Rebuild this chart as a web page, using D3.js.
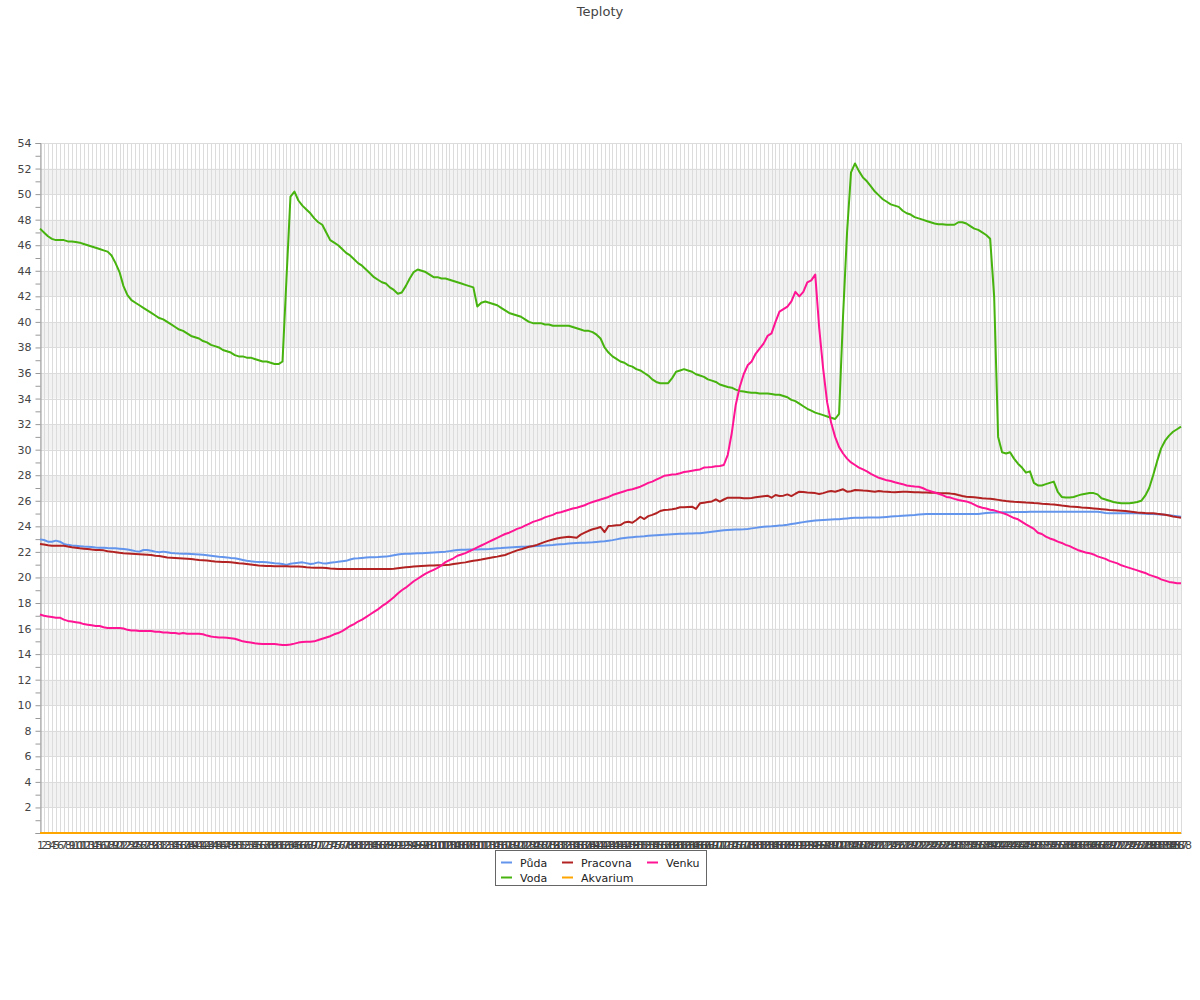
<!DOCTYPE html>
<html>
<head>
<meta charset="utf-8">
<script src="https://cdn.jsdelivr.net/npm/d3@7"></script>
<style>
  html, body { margin: 0; padding: 0; background: #fff; }
  svg { display: block; font-family: "DejaVu Sans", sans-serif; }
</style>
</head>
<body>
<svg id="chart" width="1200" height="1000"></svg>
<script>
const title = "Teploty";
const categories = d3.range(1, 289).map(String);
const seriesNames = ["Půda", "Voda", "Pracovna", "Akvarium", "Venku"];
const seriesColors = ["#6495ED", "#47B30E", "#B22222", "#FFA500", "#FF1493"];
const yTickValues = d3.range(0, 55, 1);

const puda = [
22.98,22.93,22.8,22.8,22.88,22.8,22.62,22.55,22.5,22.48,
22.45,22.42,22.4,22.38,22.35,22.33,22.32,22.3,22.29,22.28,
22.25,22.22,22.18,22.12,22.06,22.02,22.15,22.15,22.09,22.02,
21.97,22.02,21.98,21.92,21.89,21.87,21.86,21.85,21.83,21.81,
21.79,21.77,21.74,21.7,21.66,21.62,21.6,21.57,21.53,21.5,
21.44,21.37,21.3,21.26,21.23,21.21,21.2,21.18,21.15,21.12,
21.1,21.05,20.97,21.08,21.12,21.15,21.18,21.12,21.05,21.1,
21.18,21.12,21.1,21.15,21.18,21.22,21.26,21.3,21.4,21.48,
21.5,21.53,21.56,21.58,21.59,21.6,21.62,21.63,21.68,21.74,
21.8,21.83,21.85,21.86,21.88,21.89,21.9,21.92,21.94,21.96,
21.98,22.0,22.02,22.06,22.1,22.14,22.16,22.17,22.18,22.19,
22.19,22.2,22.2,22.22,22.25,22.28,22.3,22.33,22.35,22.37,
22.39,22.4,22.41,22.43,22.45,22.47,22.49,22.5,22.52,22.54,
22.57,22.6,22.62,22.65,22.67,22.69,22.71,22.72,22.74,22.75,
22.78,22.81,22.84,22.88,22.92,22.98,23.04,23.08,23.12,23.15,
23.18,23.2,23.23,23.27,23.29,23.31,23.33,23.35,23.37,23.39,
23.4,23.41,23.42,23.43,23.44,23.45,23.45,23.5,23.54,23.58,
23.62,23.66,23.7,23.72,23.74,23.75,23.76,23.77,23.8,23.84,
23.88,23.92,23.96,23.98,24.0,24.03,24.06,24.09,24.13,24.18,
24.23,24.28,24.33,24.38,24.42,24.45,24.47,24.49,24.51,24.53,
24.55,24.56,24.59,24.62,24.65,24.67,24.68,24.68,24.69,24.69,
24.7,24.7,24.72,24.74,24.76,24.78,24.8,24.83,24.85,24.87,
24.89,24.92,24.94,24.96,24.96,24.96,24.96,24.96,24.96,24.96,
24.96,24.96,24.96,24.96,24.96,24.96,24.96,25.0,25.04,25.07,
25.08,25.09,25.1,25.1,25.11,25.12,25.12,25.13,25.13,25.14,
25.14,25.15,25.15,25.15,25.15,25.15,25.15,25.15,25.15,25.15,
25.15,25.15,25.15,25.15,25.15,25.15,25.15,25.1,25.05,25.02,
25.02,25.02,25.02,25.02,25.02,25.02,25.02,25.0,24.98,24.97,
24.96,24.94,24.92,24.9,24.87,24.83,24.79,24.75
];

const voda = [
47.3,47.0,46.7,46.5,46.4,46.4,46.4,46.3,46.3,46.25,
46.2,46.1,46.0,45.9,45.8,45.7,45.6,45.5,45.2,44.6,
43.9,42.8,42.1,41.7,41.5,41.3,41.1,40.9,40.7,40.5,
40.3,40.2,40.0,39.8,39.6,39.4,39.3,39.1,38.9,38.8,
38.7,38.5,38.4,38.2,38.1,38.0,37.8,37.7,37.6,37.4,
37.3,37.3,37.2,37.2,37.1,37.0,36.9,36.9,36.8,36.7,
36.7,36.9,43.4,49.8,50.2,49.5,49.1,48.8,48.5,48.1,
47.8,47.6,47.0,46.4,46.2,46.0,45.7,45.4,45.2,44.9,
44.6,44.4,44.1,43.8,43.5,43.3,43.1,43.0,42.7,42.5,
42.2,42.3,42.8,43.4,43.9,44.1,44.0,43.9,43.7,43.5,
43.5,43.4,43.4,43.3,43.2,43.1,43.0,42.9,42.8,42.7,
41.2,41.5,41.6,41.5,41.4,41.3,41.1,40.9,40.7,40.6,
40.5,40.4,40.2,40.0,39.9,39.9,39.9,39.8,39.8,39.7,
39.7,39.7,39.7,39.7,39.6,39.5,39.4,39.3,39.3,39.2,
39.0,38.7,38.0,37.6,37.3,37.1,36.9,36.8,36.6,36.5,
36.3,36.2,36.0,35.8,35.5,35.3,35.2,35.2,35.2,35.6,
36.1,36.2,36.3,36.2,36.1,35.9,35.8,35.7,35.5,35.4,
35.3,35.1,35.0,34.9,34.85,34.7,34.6,34.55,34.5,34.45,
34.45,34.4,34.4,34.4,34.35,34.3,34.3,34.2,34.1,33.9,
33.8,33.6,33.4,33.2,33.05,32.9,32.8,32.7,32.6,32.5,
32.4,32.8,40.5,47.0,51.7,52.4,51.8,51.3,51.0,50.6,
50.2,49.9,49.6,49.4,49.2,49.1,49.0,48.7,48.5,48.4,
48.2,48.1,48.0,47.9,47.8,47.7,47.65,47.65,47.6,47.6,
47.6,47.8,47.8,47.7,47.5,47.3,47.2,47.0,46.8,46.5,
42.0,31.0,29.8,29.7,29.8,29.3,28.9,28.6,28.2,28.3,
27.4,27.2,27.2,27.3,27.4,27.5,26.7,26.3,26.25,26.25,
26.3,26.4,26.5,26.55,26.6,26.6,26.5,26.2,26.1,26.0,
25.9,25.85,25.8,25.8,25.8,25.85,25.9,26.0,26.4,27.0,
28.0,29.1,30.1,30.7,31.1,31.4,31.6,31.8
];

const pracovna = [
22.62,22.58,22.52,22.48,22.48,22.48,22.48,22.42,22.37,22.33,
22.28,22.25,22.22,22.18,22.15,22.15,22.12,22.05,22.02,21.98,
21.93,21.9,21.88,21.86,21.84,21.82,21.8,21.78,21.75,21.7,
21.68,21.62,21.56,21.54,21.52,21.5,21.48,21.46,21.44,21.4,
21.37,21.35,21.32,21.28,21.25,21.23,21.21,21.2,21.18,21.15,
21.12,21.1,21.06,21.02,20.98,20.94,20.92,20.9,20.89,20.88,
20.88,20.87,20.87,20.86,20.86,20.85,20.84,20.8,20.77,20.76,
20.76,20.76,20.74,20.7,20.68,20.66,20.66,20.66,20.66,20.66,
20.66,20.66,20.66,20.66,20.66,20.66,20.66,20.66,20.66,20.68,
20.72,20.76,20.79,20.82,20.85,20.88,20.9,20.92,20.93,20.94,
20.95,20.96,20.97,21.0,21.05,21.1,21.14,21.18,21.24,21.3,
21.35,21.4,21.47,21.53,21.58,21.63,21.7,21.76,21.88,22.0,
22.12,22.2,22.3,22.4,22.46,22.55,22.67,22.78,22.88,22.97,
23.04,23.1,23.15,23.19,23.15,23.11,23.35,23.5,23.65,23.77,
23.85,23.95,23.55,24.03,24.05,24.08,24.1,24.3,24.36,24.28,
24.5,24.75,24.57,24.8,24.9,25.02,25.2,25.28,25.3,25.33,
25.4,25.49,25.5,25.52,25.54,25.36,25.8,25.85,25.9,25.95,
26.11,25.93,26.1,26.24,26.24,26.24,26.24,26.2,26.19,26.22,
26.28,26.32,26.36,26.4,26.24,26.45,26.37,26.4,26.5,26.37,
26.55,26.71,26.68,26.65,26.63,26.6,26.53,26.6,26.7,26.76,
26.71,26.8,26.9,26.71,26.75,26.84,26.82,26.8,26.79,26.75,
26.71,26.76,26.73,26.71,26.68,26.66,26.68,26.7,26.71,26.69,
26.67,26.66,26.65,26.64,26.63,26.62,26.6,26.59,26.58,26.56,
26.53,26.45,26.38,26.32,26.3,26.27,26.24,26.2,26.17,26.15,
26.12,26.07,26.02,25.98,25.95,25.92,25.9,25.88,25.86,25.85,
25.82,25.8,25.77,25.75,25.72,25.7,25.67,25.63,25.6,25.56,
25.54,25.51,25.48,25.46,25.43,25.4,25.37,25.34,25.31,25.28,
25.26,25.24,25.22,25.2,25.16,25.12,25.08,25.06,25.04,25.03,
25.02,24.98,24.95,24.9,24.84,24.77,24.72,24.67
];

const akvarium = [
0,0,0,0,0,0,0,0,0,0,0,0,0,0,0,0,0,0,0,0,0,0,0,0,
0,0,0,0,0,0,0,0,0,0,0,0,0,0,0,0,0,0,0,0,0,0,0,0,
0,0,0,0,0,0,0,0,0,0,0,0,0,0,0,0,0,0,0,0,0,0,0,0,
0,0,0,0,0,0,0,0,0,0,0,0,0,0,0,0,0,0,0,0,0,0,0,0,
0,0,0,0,0,0,0,0,0,0,0,0,0,0,0,0,0,0,0,0,0,0,0,0,
0,0,0,0,0,0,0,0,0,0,0,0,0,0,0,0,0,0,0,0,0,0,0,0,
0,0,0,0,0,0,0,0,0,0,0,0,0,0,0,0,0,0,0,0,0,0,0,0,
0,0,0,0,0,0,0,0,0,0,0,0,0,0,0,0,0,0,0,0,0,0,0,0,
0,0,0,0,0,0,0,0,0,0,0,0,0,0,0,0,0,0,0,0,0,0,0,0,
0,0,0,0,0,0,0,0,0,0,0,0,0,0,0,0,0,0,0,0,0,0,0,0,
0,0,0,0,0,0,0,0,0,0,0,0,0,0,0,0,0,0,0,0,0,0,0,0,
0,0,0,0,0,0,0,0,0,0,0,0,0,0,0,0,0,0,0,0,0,0,0,0
];

const venku = [
17.1,17.0,16.95,16.9,16.85,16.85,16.7,16.6,16.55,16.5,
16.45,16.35,16.3,16.25,16.2,16.2,16.1,16.05,16.05,16.05,
16.05,16.0,15.9,15.85,15.85,15.8,15.8,15.8,15.8,15.75,
15.75,15.7,15.7,15.65,15.65,15.6,15.65,15.6,15.6,15.6,
15.6,15.55,15.45,15.38,15.33,15.3,15.3,15.28,15.25,15.2,
15.1,15.0,14.95,14.9,14.85,14.82,14.79,14.79,14.79,14.79,
14.75,14.72,14.71,14.75,14.82,14.9,14.95,14.97,14.97,15.0,
15.1,15.2,15.3,15.4,15.55,15.65,15.8,16.0,16.2,16.35,
16.55,16.7,16.9,17.1,17.3,17.5,17.75,17.95,18.2,18.45,
18.75,19.0,19.2,19.45,19.7,19.9,20.1,20.3,20.45,20.6,
20.75,20.95,21.2,21.35,21.5,21.7,21.8,21.9,22.05,22.2,
22.35,22.5,22.65,22.8,22.95,23.1,23.25,23.4,23.5,23.65,
23.8,23.9,24.05,24.2,24.35,24.45,24.55,24.7,24.8,24.9,
25.05,25.1,25.2,25.3,25.4,25.45,25.55,25.65,25.8,25.9,
26.0,26.1,26.2,26.3,26.45,26.55,26.65,26.75,26.85,26.9,
27.0,27.1,27.25,27.4,27.5,27.65,27.8,27.95,28.0,28.05,
28.07,28.15,28.25,28.3,28.35,28.4,28.45,28.6,28.62,28.65,
28.7,28.72,28.8,29.6,31.3,33.5,34.9,35.9,36.6,36.9,
37.5,37.9,38.3,38.9,39.1,40.0,40.8,41.0,41.2,41.6,
42.35,42.0,42.35,43.1,43.25,43.7,39.5,36.3,33.7,32.1,
31.0,30.2,29.7,29.3,29.0,28.8,28.6,28.45,28.3,28.1,
27.95,27.8,27.7,27.6,27.55,27.45,27.37,27.3,27.2,27.15,
27.12,27.1,27.0,26.85,26.75,26.65,26.55,26.45,26.3,26.25,
26.15,26.06,26.0,25.95,25.85,25.7,25.55,25.45,25.4,25.3,
25.25,25.15,25.05,24.95,24.8,24.65,24.55,24.35,24.15,23.97,
23.8,23.5,23.4,23.2,23.05,22.95,22.8,22.7,22.55,22.45,
22.3,22.15,22.05,21.95,21.9,21.8,21.65,21.55,21.45,21.3,
21.2,21.1,20.95,20.85,20.75,20.65,20.55,20.45,20.35,20.2,
20.1,20.0,19.85,19.75,19.65,19.6,19.55,19.55
];

const seriesValues = [puda, voda, pracovna, akvarium, venku];
seriesValues.forEach((s, i) => {
  if (s.length !== categories.length) throw new Error(seriesNames[i] + " length " + s.length);
});

const svg = d3.select("#chart");
const margin = {left: 40, right: 1181, top: 143, bottom: 833};

svg.append("rect").attr("width", 1200).attr("height", 1000).attr("fill", "#fff");

svg.append("text")
  .attr("x", 600).attr("y", 16)
  .attr("text-anchor", "middle")
  .attr("font-size", 13).attr("fill", "#444")
  .text(title);

const x = d3.scalePoint().domain(categories).range([margin.left, margin.right]);
const y = d3.scaleLinear().domain([0, 54]).range([margin.bottom, margin.top]);

// alternating bands
const bandStarts = d3.range(2, 54, 4);
svg.append("g").selectAll("rect").data(bandStarts).join("rect")
  .attr("x", margin.left).attr("width", margin.right - margin.left)
  .attr("y", d => y(d + 2)).attr("height", d => y(d) - y(d + 2))
  .attr("fill", "#f2f2f2");

// vertical grid
svg.append("g").selectAll("line").data(categories).join("line")
  .attr("x1", d => Math.round(x(d)) + 0.5).attr("x2", d => Math.round(x(d)) + 0.5)
  .attr("y1", margin.top).attr("y2", margin.bottom)
  .attr("stroke", "#dcdcdc").attr("stroke-width", 1);

// horizontal grid
svg.append("g").selectAll("line").data(d3.range(2, 56, 2)).join("line")
  .attr("x1", margin.left).attr("x2", margin.right)
  .attr("y1", d => Math.round(y(d)) + 0.5).attr("y2", d => Math.round(y(d)) + 0.5)
  .attr("stroke", "#dcdcdc").attr("stroke-width", 1);

// y axis
const yAxis = d3.axisLeft(y).tickValues(yTickValues).tickSize(5).tickPadding(4)
  .tickFormat(d => (d % 2 === 0 && d !== 0) ? d : "");
const yg = svg.append("g").attr("transform", `translate(${margin.left + 0.5},0)`).call(yAxis);
yg.select(".domain").attr("stroke", "#999");
yg.selectAll(".tick line").attr("stroke", "#999");
yg.selectAll(".tick text").attr("font-size", 11).attr("fill", "#444")
  .attr("font-family", "DejaVu Sans, sans-serif");

// x axis
const xAxis = d3.axisBottom(x).tickSize(0).tickPadding(8);
const xg = svg.append("g").attr("transform", `translate(0,${margin.bottom})`).call(xAxis);
xg.select(".domain").attr("stroke", "#999");
xg.selectAll(".tick text").attr("font-size", 11).attr("fill", "#444")
  .attr("font-family", "DejaVu Sans, sans-serif");

// lines
const line = d3.line().x((d, i) => x(categories[i])).y(d => y(d));
svg.append("g").selectAll("path").data(seriesValues).join("path")
  .attr("d", d => line(d))
  .attr("fill", "none")
  .attr("stroke", (d, i) => seriesColors[i])
  .attr("stroke-width", 2)
  .attr("stroke-linejoin", "round");

// legend
const legend = svg.append("g");
legend.append("rect")
  .attr("x", 495.5).attr("y", 850.5).attr("width", 211).attr("height", 35)
  .attr("fill", "#fff").attr("stroke", "#666");
const legendOrder = [0, 2, 4, 1, 3];
const colX = [501, 562, 647];
legendOrder.forEach((si, k) => {
  const col = k % 3, row = Math.floor(k / 3);
  const lx = colX[col], ly = 862.5 + row * 15;
  legend.append("line").attr("x1", lx).attr("x2", lx + 11).attr("y1", ly).attr("y2", ly)
    .attr("stroke", seriesColors[si]).attr("stroke-width", 2);
  legend.append("text").attr("x", lx + 19).attr("y", ly + 4)
    .attr("font-size", 11).attr("fill", "#222").text(seriesNames[si]);
});
</script>
</body>
</html>
